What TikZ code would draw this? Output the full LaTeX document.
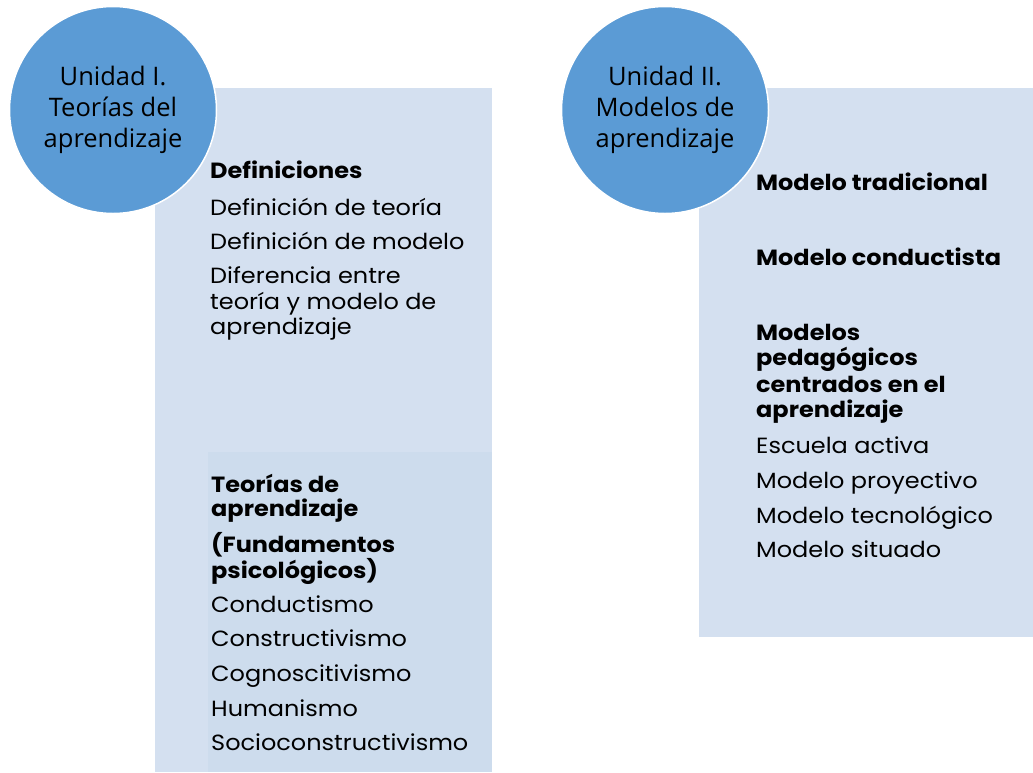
\documentclass[tikz,border=0pt]{standalone}
\usepackage{fontspec}
\setmainfont[FakeStretch=1.09]{Poppins}
\newfontfamily\circlefont{Open Sans}
\usepackage{tikz}
\usetikzlibrary{shapes,positioning}
\definecolor{unitblue}{HTML}{5B9BD5}
\definecolor{boxblue}{HTML}{D4E0F0}
\definecolor{boxdark}{HTML}{CDDCED}
\tikzset{
  unidad/.style={circle,fill=unitblue,draw=white,line width=1.5pt,minimum size=207pt,
    align=center,inner sep=0pt,font=\circlefont\fontsize{25.5}{31}\selectfont},
  item/.style={anchor=base west,inner sep=0pt,font=\fontsize{22}{24}\selectfont},
  head/.style={item,font=\fontsize{22}{24}\selectfont\bfseries}
}
\begin{document}
\begin{tikzpicture}[x=1pt,y=-1pt]
\useasboundingbox (0,0) rectangle (1033,772);

% to draw the boxes
\fill [boxblue] (155,88) rectangle (492,450);
\fill [boxblue] (155,449) rectangle (492,772);
\fill [boxdark] (208,452) rectangle (492,772);
\fill [boxblue] (699,88) rectangle (1033,637);

% to draw the units
\node [unidad] (u1) at (113,110) {Unidad I.\\Teorías del\\aprendizaje};
\node [unidad] (u2) at (665,110) {Unidad II.\\Modelos de\\aprendizaje};

%Unidad I, top box:
\node [head] (d0) at (210,178) {Definiciones};
\node [item] (d1) at (210,215) {Definición de teoría};
\node [item] (d2) at (210,249) {Definición de modelo};
\node [item] (d3) at (210,283) {Diferencia entre};
\node [item] (d4) at (210,309) {teoría y modelo de};
\node [item] (d5) at (210,334) {aprendizaje};

%Unidad I, bottom box:
\node [head] (t0) at (211,492) {Teorías de};
\node [head] (t1) at (211,516) {aprendizaje};
\node [head] (t2) at (211,552) {(Fundamentos};
\node [head] (t3) at (211,578) {psicológicos)};
\node [item] (t4) at (211,612) {Conductismo};
\node [item] (t5) at (211,646) {Constructivismo};
\node [item] (t6) at (211,681) {Cognoscitivismo};
\node [item] (t7) at (211,716) {Humanismo};
\node [item] (t8) at (211,750) {Socioconstructivismo};

%Unidad II:
\node [head] (m0) at (756,190) {Modelo tradicional};
\node [head] (m1) at (756,265) {Modelo conductista};
\node [head] (m2) at (756,340) {Modelos};
\node [head] (m3) at (756,365) {pedagógicos};
\node [head] (m4) at (756,392) {centrados en el};
\node [head] (m5) at (756,417) {aprendizaje};
\node [item] (m6) at (756,453) {Escuela activa};
\node [item] (m7) at (756,488) {Modelo proyectivo};
\node [item] (m8) at (756,523) {Modelo tecnológico};
\node [item] (m9) at (756,557) {Modelo situado};
\end{tikzpicture}
\end{document}
